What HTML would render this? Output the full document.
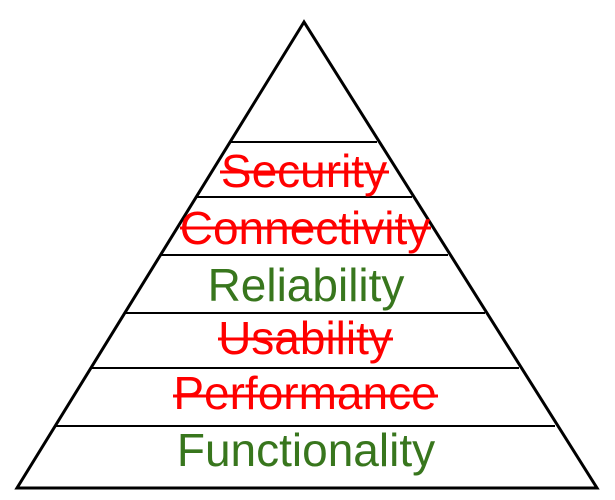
<!DOCTYPE html>
<html><head><style>body{margin:0;background:#fff}svg{display:block}</style></head>
<body>
<svg width="615" height="500" xmlns="http://www.w3.org/2000/svg">
<polygon points="304,22 17,488 597,488" fill="#fff" stroke="#000" stroke-width="3"/>
<g stroke="#000" stroke-width="2">
<line x1="231" y1="142" x2="377" y2="142"/>
<line x1="197" y1="197" x2="412" y2="197"/>
<line x1="161" y1="255" x2="448" y2="255"/>
<line x1="125" y1="313" x2="485" y2="313"/>
<line x1="91" y1="368" x2="519" y2="368"/>
<line x1="56" y1="426" x2="555" y2="426"/>
</g>
<g font-family="Liberation Sans, Arial, sans-serif" font-size="46" text-anchor="middle">
<text x="304" y="187" fill="#ff0000">Security</text>
<text x="305" y="244" fill="#ff0000">Connectivity</text>
<text x="306" y="301" fill="#38761d">Reliability</text>
<text x="305" y="354" fill="#ff0000">Usability</text>
<text x="305" y="409" fill="#ff0000">Performance</text>
<text x="306" y="466" fill="#38761d">Functionality</text>
</g>
<g stroke="#ff0000" stroke-width="3">
<line x1="220" y1="172" x2="389" y2="172"/>
<line x1="180" y1="228" x2="431" y2="228"/>
<line x1="218" y1="339" x2="393" y2="339"/>
<line x1="173" y1="396" x2="438" y2="396"/>
</g>
</svg>
</body></html>
